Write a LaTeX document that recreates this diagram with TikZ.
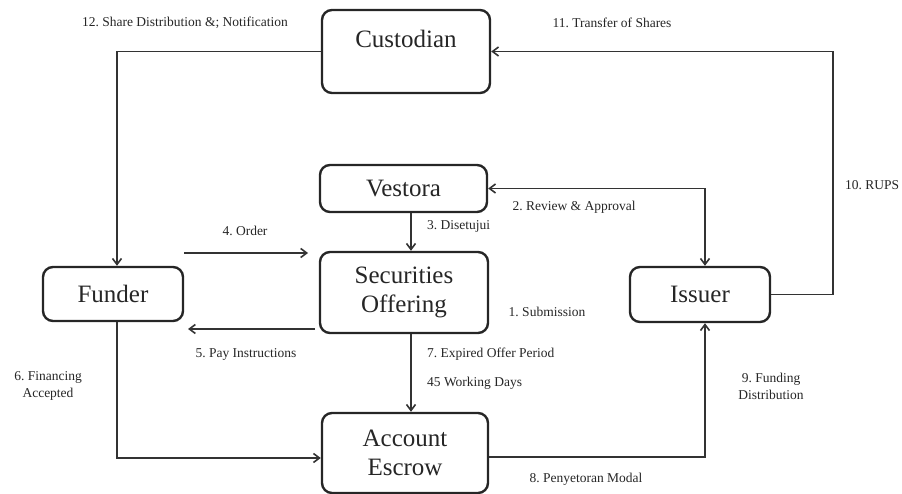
\documentclass[tikz,border=0pt]{standalone}
\usepackage{fontspec}
\setmainfont{Liberation Serif}
\usetikzlibrary{arrows.meta}
\frenchspacing
\begin{document}
\begin{tikzpicture}[x=1pt,y=-1pt,
  >={Straight Barb[length=6pt,width=9pt]},
  box/.style={draw=black!85, line width=2.4pt, rounded corners=10pt, inner sep=0pt},
  boxtxt/.style={inner sep=0pt, align=center, text=black!85, font=\fontsize{25}{29}\selectfont},
  lbl/.style={inner sep=0pt, align=center, text=black!85, font=\fontsize{13.5}{17}\selectfont},
  conn/.style={draw=black!80, line width=1.6pt, ->}]
\useasboundingbox (0,0) rectangle (902,494);
% boxes
\node[box, minimum width=168pt, minimum height=83pt] (cust) at (406,51.5) {};
\node[boxtxt] (custt) at (406,39) {Custodian};
\node[box, boxtxt, minimum width=167pt, minimum height=47pt] (vest) at (403.5,188.5) {Vestora};
\node[box, boxtxt, minimum width=168pt, minimum height=81pt] (sec) at (404,292.5) {Securities\\Offering};
\node[box, boxtxt, minimum width=166pt, minimum height=80pt] (esc) at (405,453) {Account\\Escrow};
\node[box, boxtxt, minimum width=140pt, minimum height=54pt] (fund) at (113,294) {Funder};
\node[box, boxtxt, minimum width=140pt, minimum height=55pt] (iss) at (700,294.5) {Issuer};
% helper coordinates
\coordinate (ax) at (411,0);
\coordinate (fx) at (117,0);
\coordinate (ix) at (705,0);
\coordinate (rx) at (833,0);
\coordinate (y8) at (0,457);
\coordinate (y6) at (0,458);
\coordinate (o4a) at (184,253);
\coordinate (o4b) at (308,253);
\coordinate (o5a) at (315,329);
\coordinate (o5b) at (188,329);
% connectors
\draw[conn] (cust.west) -| (fund.north -| fx);
\draw[conn] (iss.east) -| (rx |- cust.east) -- (cust.east);
\draw[conn, <->] (vest.east) -| (iss.north -| ix);
\draw[conn] (vest.south -| ax) -- (sec.north -| ax);
\draw[conn] (o4a) -- (o4b);
\draw[conn] (o5a) -- (o5b);
\draw[conn] (sec.south -| ax) -- (esc.north -| ax);
\draw[conn] (fund.south -| fx) |- (esc.west |- y6);
\draw[conn] (esc.east |- y8) -| (iss.south -| ix);
% labels
\node[lbl] (l12) at (185,23) {12. Share Distribution \&; Notification};
\node[lbl] (l11) at (612,23) {11. Transfer of Shares};
\node[lbl, anchor=west] (l10) at (845,185) {10. RUPS};
\node[lbl] (l2) at (574,207) {2. Review \& Approval};
\node[lbl, anchor=west] (l3) at (427,226) {3. Disetujui};
\node[lbl] (l1) at (547,312) {1. Submission};
\node[lbl] (l4) at (245,231) {4. Order};
\node[lbl] (l5) at (246,354) {5. Pay Instructions};
\node[lbl] (l6) at (48,386) {6. Financing\\Accepted};
\node[lbl, anchor=west] (l7) at (427,354) {7. Expired Offer Period};
\node[lbl, anchor=west] (l7b) at (427,383) {45 Working Days};
\node[lbl] (l8) at (586,479) {8. Penyetoran Modal};
\node[lbl] (l9) at (771,386) {9. Funding\\Distribution};
\end{tikzpicture}
\end{document}
